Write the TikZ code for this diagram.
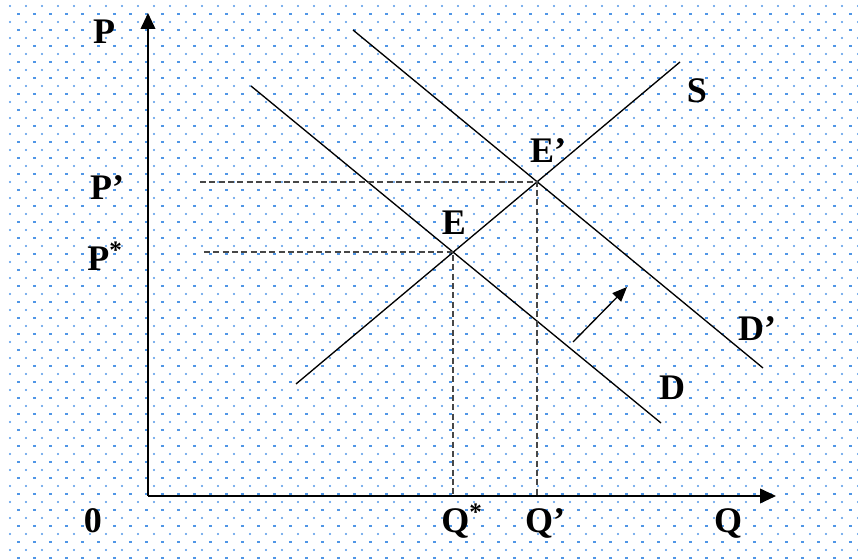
\documentclass[tikz,border=0pt]{standalone}
\usepackage{fontspec}
\setmainfont{Liberation Serif}
\usetikzlibrary{arrows.meta}
\definecolor{paperdot}{RGB}{80,150,230}
\tikzset{
  lbl/.style={font=\fontsize{27}{30}\selectfont\bfseries, inner sep=0pt, anchor=base},
  curve/.style={line width=1pt},
  guide/.style={line width=1.4pt, draw=black!72, dash pattern=on 4.5pt off 2.5pt},
  axis/.style={line width=1.3pt, -{Triangle[length=12pt,width=11pt]}}
}

\begin{document}
\begin{tikzpicture}[x=0.75pt,y=-0.75pt]
  \useasboundingbox (0,0) rectangle (858,559);
  % dotted paper
  \foreach \i in {0,...,53}
    \foreach \j in {0,...,34} {
      \fill[paperdot] (10+16*\i,6+16*\j) circle (0.9pt);
      \fill[paperdot] (17+16*\i,13.5+16*\j) rectangle ++(3,1.2);
    }

  \coordinate (O) at (148,496);
  \coordinate (Ptop) at (148,13);
  \coordinate (Qend) at (776,496);
  \coordinate (S1) at (296,384);   \coordinate (S2) at (680,62);
  \coordinate (D1) at (251,86);    \coordinate (D2) at (661,423);
  \coordinate (Dp1) at (353,30);   \coordinate (Dp2) at (763,368);
  \coordinate (E) at (intersection of S1--S2 and D1--D2);
  \coordinate (Ep) at (intersection of S1--S2 and Dp1--Dp2);
  \coordinate (Pst) at (204,0 |- E);
  \coordinate (Ppr) at (200,0 |- Ep);
  \coordinate (Qst) at (E |- O);
  \coordinate (Qpr) at (Ep |- O);
  \coordinate (sh1) at (573,342);  \coordinate (sh2) at (627,287);

  \draw[axis] (O) -- (Ptop);   % price axis
  \draw[axis] (O) -- (Qend);   % quantity axis

  \draw[curve] (S1) -- (S2);    % supply
  \draw[curve] (D1) -- (D2);    % demand
  \draw[curve] (Dp1) -- (Dp2);  % shifted demand

  \draw[guide] (Pst) -- (E) -- (Qst);
  \draw[guide] (Ppr) -- (Ep) -- (Qpr);

  \draw[line width=1pt, -{Triangle[length=11pt,width=9pt]}] (sh1) -- (sh2);

  \node[lbl] (lP) at (104,44) {P};
  \node[lbl] (lPp) at (107,200) {P’};
  \node[lbl] (lPs) at (105,271) {P\textsuperscript{*}};
  \node[lbl] (lE) at (454,235) {E};
  \node[lbl] (lEp) at (548,163) {E’};
  \node[lbl] (lS) at (697,103) {S};
  \node[lbl] (lDp) at (757,341) {D’};
  \node[lbl] (lD) at (672,400) {D};
  \node[lbl] (l0) at (93,533) {0};
  \node[lbl] (lQs) at (462,533) {Q\textsuperscript{*}};
  \node[lbl] (lQp) at (545,533) {Q’};
  \node[lbl] (lQ) at (728,533) {Q};
\end{tikzpicture}
\end{document}
